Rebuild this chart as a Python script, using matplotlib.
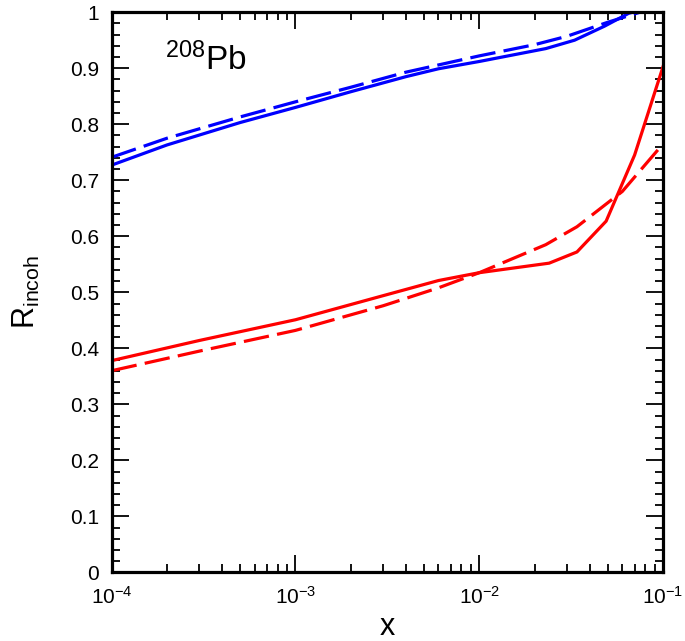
import matplotlib
matplotlib.use('Agg')
from matplotlib import pyplot as plt
from matplotlib import ticker
import numpy as np

plt.rcParams['font.family'] = ['Liberation Sans', 'DejaVu Sans']
plt.rcParams['mathtext.fontset'] = 'custom'
plt.rcParams['mathtext.rm'] = 'Liberation Sans'
plt.rcParams['mathtext.it'] = 'Liberation Sans'

# valori
x_blue_solid = [1e-4, 2e-4, 5e-4, 1e-3, 2e-3, 4e-3, 6e-3, 1e-2, 2.3e-2, 3.3e-2, 4.8e-2, 6.5e-2, 8e-2]
y_blue_solid = [0.727, 0.763, 0.803, 0.830, 0.858, 0.885, 0.899, 0.912, 0.935, 0.950, 0.975, 0.998, 1.006]

x_blue_dash = [1e-4, 2e-4, 5e-4, 1e-3, 2e-3, 4e-3, 1e-2, 2e-2, 3e-2, 5e-2, 7.5e-2, 1e-1]
y_blue_dash = [0.741, 0.775, 0.813, 0.840, 0.866, 0.893, 0.922, 0.942, 0.957, 0.982, 1.0, 1.01]

x_red_solid = [1e-4, 3e-4, 1e-3, 3e-3, 6e-3, 1e-2, 2.4e-2, 3.4e-2, 4.9e-2, 7e-2, 1e-1]
y_red_solid = [0.378, 0.414, 0.451, 0.494, 0.521, 0.535, 0.552, 0.572, 0.627, 0.745, 0.903]

x_red_dash = [1e-4, 3e-4, 1e-3, 3e-3, 6e-3, 1e-2, 2.3e-2, 3.4e-2, 6e-2, 1e-1]
y_red_dash = [0.360, 0.395, 0.432, 0.476, 0.508, 0.535, 0.585, 0.617, 0.680, 0.765]

fig = plt.figure(figsize=(6.85, 6.41), dpi=100)
ax = fig.add_axes([0.163, 0.107, 0.805, 0.874])

lw = 2.3
ax.plot(x_blue_solid, y_blue_solid, color='#0000ff', lw=lw)
ax.plot(x_blue_dash, y_blue_dash, color='#0000ff', lw=lw, dashes=[8, 2.6])
ax.plot(x_red_solid, y_red_solid, color='#ff0000', lw=lw)
ax.plot(x_red_dash, y_red_dash, color='#ff0000', lw=lw, dashes=[8, 2.6])

ax.set_xscale('log')
ax.set_xlim(1e-4, 1e-1)
ax.set_ylim(0, 1)

ax.yaxis.set_major_locator(ticker.MultipleLocator(0.1))
ax.yaxis.set_minor_locator(ticker.MultipleLocator(0.02))
ax.yaxis.set_major_formatter(ticker.FuncFormatter(lambda v, p: '%g' % round(v, 2)))
ax.xaxis.set_major_locator(ticker.LogLocator(base=10, numticks=10))
ax.xaxis.set_minor_locator(ticker.LogLocator(base=10, subs=np.arange(2, 10), numticks=10))
ax.xaxis.set_minor_formatter(ticker.NullFormatter())

for s in ax.spines.values():
    s.set_linewidth(2.3)

ax.tick_params(which='both', direction='in', top=True, right=True, labelsize=15)
ax.tick_params(axis='x', which='major', pad=10)
ax.tick_params(axis='y', which='major', pad=9)
ax.tick_params(which='major', length=12, width=1.3)
ax.tick_params(which='minor', length=6, width=1.3)

ax.set_xlabel('x', fontsize=22, labelpad=3)
ax.set_ylabel(r'R$_{\mathrm{incoh}}$', fontsize=22, labelpad=20)

ax.text(0.097, 0.915, r'$^{208}$Pb', transform=ax.transAxes, fontsize=24, va='center')

fig.savefig('out.png', dpi=100)
